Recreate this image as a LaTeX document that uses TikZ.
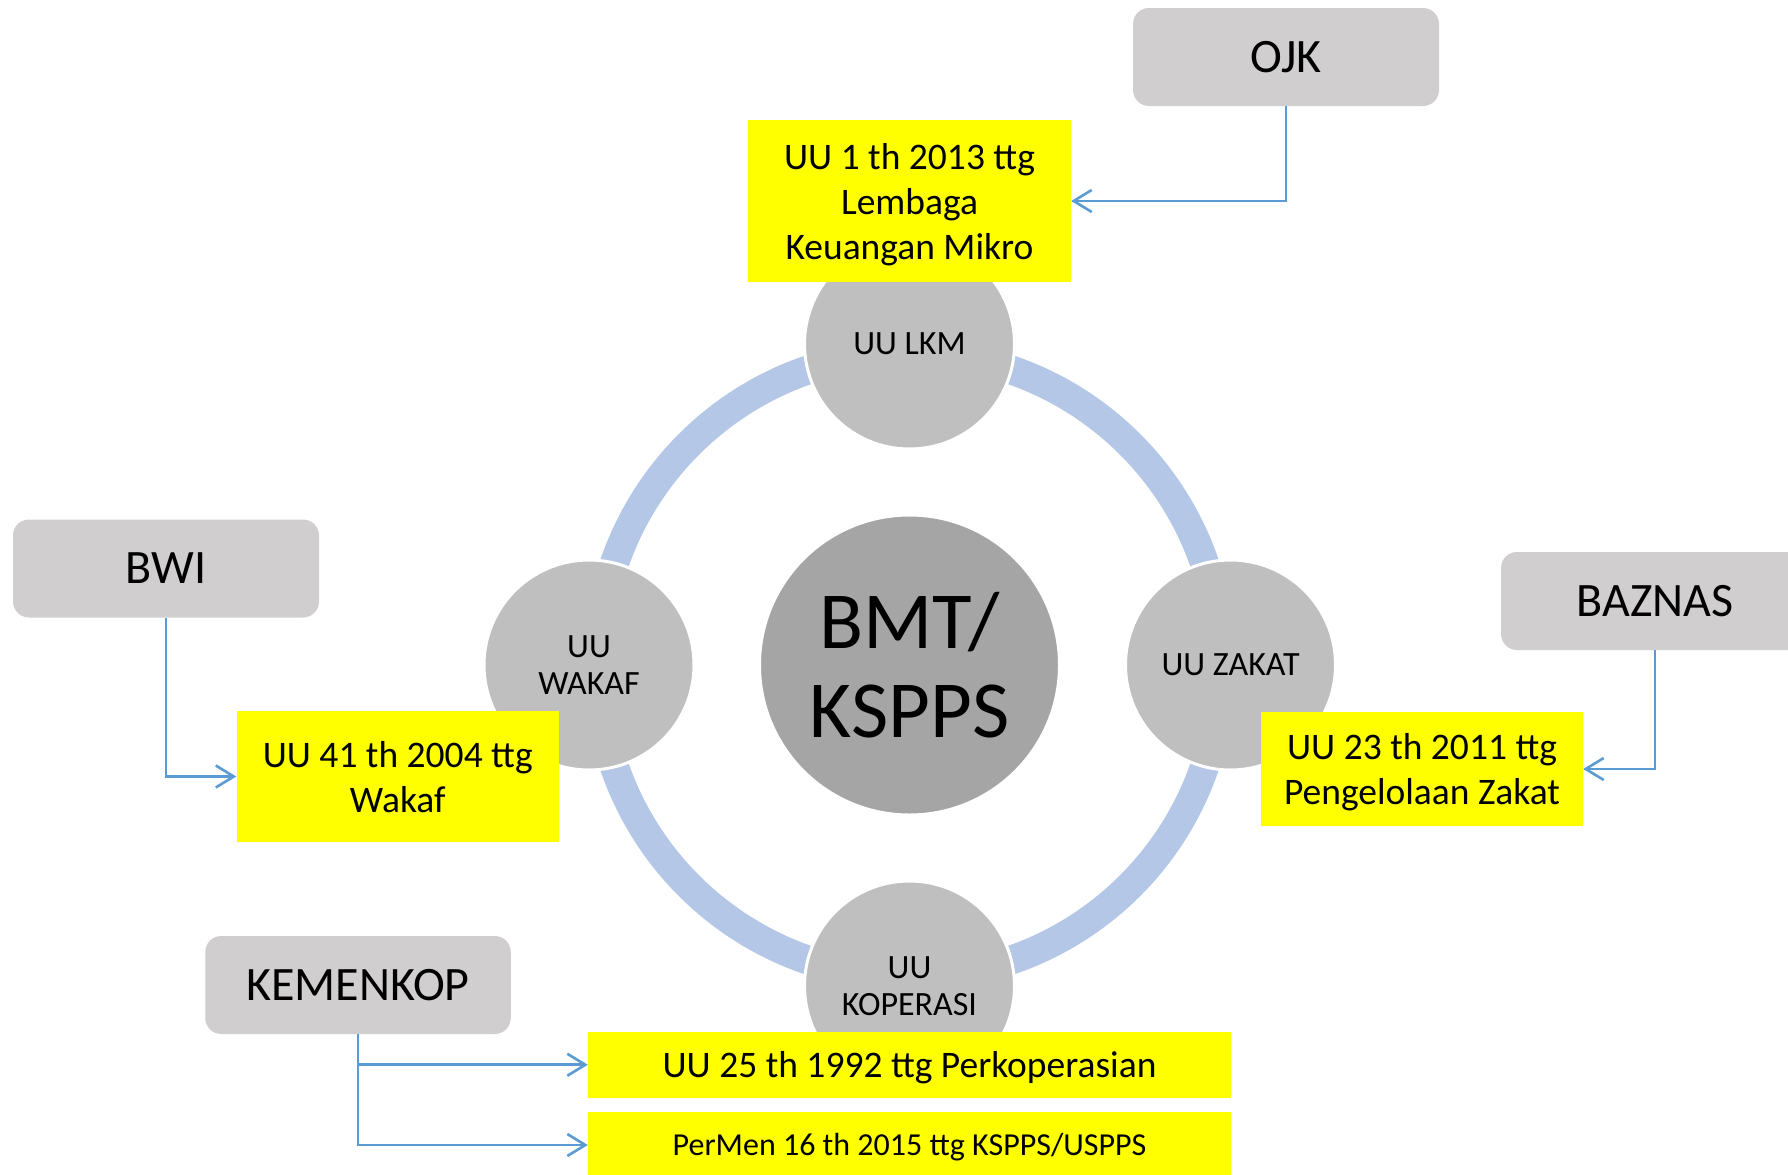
\documentclass[tikz,border=0pt]{standalone}
\usepackage{fontspec}
\setmainfont{Carlito}
\usetikzlibrary{arrows.meta}
\definecolor{ringblue}{HTML}{B4C7E7}
\definecolor{hubgrey}{HTML}{A5A5A5}
\definecolor{lawgrey}{HTML}{BFBFBF}
\definecolor{agencygrey}{HTML}{D0CECE}
\definecolor{lawyellow}{HTML}{FFFF00}
\definecolor{linkblue}{HTML}{5B9BD5}

\begin{document}
\begin{tikzpicture}[x=1pt,y=-1pt,
  agency/.style={fill=agencygrey, rounded corners=16pt, minimum width=306pt,
    minimum height=98pt, inner sep=0pt, font=\fontsize{48}{56}\selectfont},
  hub/.style={circle, fill=hubgrey, draw=white, line width=3pt, minimum size=300pt,
    inner sep=0pt, align=center, font=\fontsize{81}{89}\selectfont},
  lawcircle/.style={circle, fill=lawgrey, draw=white, line width=3pt, minimum size=210pt,
    inner sep=0pt, align=center, font=\fontsize{34}{37}\selectfont},
  statute/.style={fill=lawyellow, inner sep=0pt},
  statutetext/.style={inner sep=0pt, align=center, font=\fontsize{37.5}{45}\selectfont},
  link/.style={draw=linkblue, line width=2.6pt, -{Straight Barb[length=18pt,width=22pt]}},
]
\useasboundingbox (0,0) rectangle (1788,1175);
\clip (0,0) rectangle (1788,1175);

% cycle ring
\draw[ringblue, line width=29pt] (909.5,665) circle[radius=312];

% hub and the four laws around it
\node[hub] (bmt) at (909.5,665) {BMT/\\KSPPS};
\node[lawcircle] (lkm) at (909.5,344) {UU LKM};
\node[lawcircle] (zakat) at (1230.5,665) {UU ZAKAT};
\node[lawcircle] (wakaf) at (589,665) {UU\\WAKAF};
\node[lawcircle] (kop) at (909.5,986) {UU\\KOPERASI};

% statutes: yellow panels with their titles
\node[statute, minimum width=323pt, minimum height=162pt] (lkmlaw) at (909.5,201) {};
\node[statutetext] at ([yshift=-4pt]lkmlaw.center)
  {UU 1 th 2013 ttg\\Lembaga\\Keuangan Mikro};
\node[statute, minimum width=322.5pt, minimum height=131pt] (wakaflaw) at (397.75,776.5) {};
\node[statutetext] at ([yshift=-1pt]wakaflaw.center) {UU 41 th 2004 ttg\\Wakaf};
\node[statute, minimum width=322pt, minimum height=114pt] (zakatlaw) at (1422,769) {};
\node[statutetext] at ([yshift=-3pt]zakatlaw.center) {UU 23 th 2011 ttg\\Pengelolaan Zakat};
\node[statute, minimum width=643pt, minimum height=66.5pt] (koplaw) at (909.5,1064.75) {};
\node[statutetext] at ([yshift=-3pt]koplaw.center) {UU 25 th 1992 ttg Perkoperasian};
\node[statute, minimum width=643pt, minimum height=66pt] (permen) at (909.5,1145) {};
\node[statutetext, font=\fontsize{32}{38}\selectfont] at ([yshift=-2pt]permen.center)
  {PerMen 16 th 2015 ttg KSPPS/USPPS};

% supervising agencies
\node[agency] (ojk) at (1286,57) {OJK};
\node[agency] (bwi) at (166,568.5) {BWI};
\node[agency, minimum width=308pt] (baznas) at (1655,601) {BAZNAS};
\node[agency, minimum width=305.5pt] (kemenkop) at (358,985) {KEMENKOP};

% agency -> statute links
\draw[link] (ojk.south) |- (lkmlaw.east);
\draw[link] (bwi.south) |- (wakaflaw.west);
\draw[link] (baznas.south) |- (zakatlaw.east);
\draw[link] (kemenkop.south) |- (koplaw.west);
\draw[link] (kemenkop.south) |- (permen.west);
\end{tikzpicture}
\end{document}
